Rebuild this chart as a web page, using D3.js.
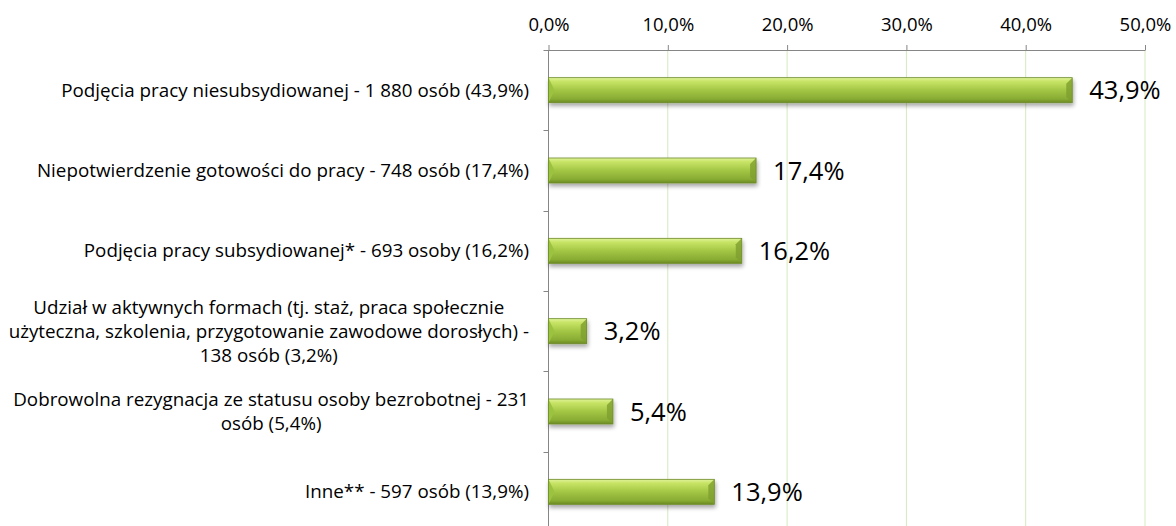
<!DOCTYPE html>
<html>
<head>
<meta charset="utf-8">
<script src="https://cdn.jsdelivr.net/npm/d3@7"></script>
<style>
  body { margin: 0; background: #fff; }
  svg text { font-family: "Open Sans", sans-serif; fill: #000; }
</style>
</head>
<body>
<div id="chart"></div>
<script>
// labels, each one already split into its lines
var categories = [
    ["Podjęcia pracy niesubsydiowanej - 1 880 osób (43,9%)"],
    ["Niepotwierdzenie gotowości do pracy - 748 osób (17,4%)"],
    ["Podjęcia pracy subsydiowanej* - 693 osoby (16,2%)"],
    ["Udział w aktywnych formach (tj. staż, praca społecznie",
     "użyteczna, szkolenia, przygotowanie zawodowe dorosłych) -",
     "138 osób (3,2%)"],
    ["Dobrowolna rezygnacja ze statusu osoby bezrobotnej - 231",
     "osób (5,4%)"],
    ["Inne** - 597 osób (13,9%)"]
];
var values = [43.9, 17.4, 16.2, 3.2, 5.4, 13.9];
var tickValues = [0, 10, 20, 30, 40, 50];

var width = 1176,
    height = 526;

var margin = {top: 50, left: 548.5, right: 31};
var plotBottom = 532;

var fmt = function(v) { return v.toFixed(1).replace(".", ",") + "%"; };

var svg = d3.select("#chart").append("svg")
    .attr("width", width)
    .attr("height", height);

var defs = svg.append("defs");

var grad = defs.append("linearGradient")
    .attr("id", "barGrad")
    .attr("x1", 0).attr("y1", 0).attr("x2", 0).attr("y2", 1);
grad.append("stop").attr("offset", "0%").attr("stop-color", "#dff39a");
grad.append("stop").attr("offset", "15%").attr("stop-color", "#c8e466");
grad.append("stop").attr("offset", "50%").attr("stop-color", "#a3c645");
grad.append("stop").attr("offset", "85%").attr("stop-color", "#88ab33");
grad.append("stop").attr("offset", "100%").attr("stop-color", "#6b8a24");

var shadow = defs.append("filter")
    .attr("id", "shadow")
    .attr("x", "-10%").attr("y", "-30%")
    .attr("width", "130%").attr("height", "190%");
shadow.append("feGaussianBlur").attr("in", "SourceAlpha").attr("stdDeviation", 2.2);
shadow.append("feOffset").attr("dx", 1).attr("dy", 3).attr("result", "blur");
shadow.append("feComponentTransfer")
    .append("feFuncA").attr("type", "linear").attr("slope", 0.35);
var merge = shadow.append("feMerge");
merge.append("feMergeNode");
merge.append("feMergeNode").attr("in", "SourceGraphic");

var x = d3.scaleLinear()
    .domain([0, 50])
    .range([margin.left, width - margin.right]);

var y = d3.scaleBand()
    .domain(d3.range(categories.length))
    .range([margin.top, plotBottom]);

// gridlines
svg.append("g")
    .selectAll("line")
    .data(tickValues.slice(1))
    .enter().append("line")
    .attr("x1", function(d) { return x(d); })
    .attr("x2", function(d) { return x(d); })
    .attr("y1", margin.top)
    .attr("y2", plotBottom)
    .attr("stroke", "#d5e9bd")
    .attr("stroke-width", 1);

// top axis
var xAxis = svg.append("g")
    .attr("transform", "translate(0," + margin.top + ")")
    .call(d3.axisTop(x)
        .tickValues(tickValues)
        .tickFormat(fmt)
        .tickSize(5)
        .tickSizeOuter(0)
        .tickPadding(14));
xAxis.select(".domain").attr("stroke", "#868686");
xAxis.selectAll(".tick line").attr("stroke", "#868686");
xAxis.selectAll("text").style("font-size", "18.5px");

// left axis (ticks between categories)
var yAxis = svg.append("g");
yAxis.append("line")
    .attr("x1", margin.left).attr("x2", margin.left)
    .attr("y1", margin.top).attr("y2", plotBottom)
    .attr("stroke", "#868686");
yAxis.selectAll("line.tk")
    .data(d3.range(categories.length + 1))
    .enter().append("line")
    .attr("class", "tk")
    .attr("x1", margin.left - 5).attr("x2", margin.left)
    .attr("y1", function(d) { return Math.round(margin.top + d * y.step()) + 0.5; })
    .attr("y2", function(d) { return Math.round(margin.top + d * y.step()) + 0.5; })
    .attr("stroke", "#868686");

// bars
var barH = 25;
var bars = svg.append("g")
    .selectAll("g.bar")
    .data(values)
    .enter().append("g")
    .attr("class", "bar")
    .attr("filter", "url(#shadow)");

bars.append("rect")
    .attr("x", x(0))
    .attr("y", function(d, i) { return y(i) + y.bandwidth() / 2 - barH / 2; })
    .attr("width", function(d) { return x(d) - x(0); })
    .attr("height", barH)
    .attr("fill", "url(#barGrad)");

// bevel on the ends
bars.append("path")
    .attr("d", function(d, i) {
        var y0 = y(i) + y.bandwidth() / 2 - barH / 2, x0 = x(0), b = 6;
        return "M" + x0 + "," + y0 + "L" + (x0 + b) + "," + (y0 + barH / 2) +
               "L" + x0 + "," + (y0 + barH) + "Z";
    })
    .attr("fill", "#9cc33f");
bars.append("path")
    .attr("d", function(d, i) {
        var y0 = y(i) + y.bandwidth() / 2 - barH / 2, x1 = x(d), b = 6;
        return "M" + x1 + "," + y0 + "L" + (x1 - b) + "," + (y0 + b) +
               "L" + (x1 - b) + "," + (y0 + barH - b) + "L" + x1 + "," + (y0 + barH) + "Z";
    })
    .attr("fill", "#7e9f2e")
    .attr("opacity", 0.8);
bars.append("rect")
    .attr("x", x(0))
    .attr("y", function(d, i) { return y(i) + y.bandwidth() / 2 - barH / 2; })
    .attr("width", function(d) { return x(d) - x(0); })
    .attr("height", barH)
    .attr("fill", "none")
    .attr("stroke", "#6f8c2a")
    .attr("stroke-width", 0.8);

// value labels
svg.append("g")
    .selectAll("text")
    .data(values)
    .enter().append("text")
    .attr("x", function(d) { return x(d) + 17; })
    .attr("y", function(d, i) { return y(i) + y.bandwidth() / 2; })
    .attr("dy", "0.36em")
    .style("font-size", "25.5px")
    .text(fmt);

// category labels: block right-aligned, lines centred inside block
var lineH = 24;
var labelRight = 529;
var labels = svg.append("g")
    .selectAll("g.lab")
    .data(categories)
    .enter().append("g")
    .attr("class", "lab");

labels.each(function(lines, i) {
    var g = d3.select(this);
    var cy = y(i) + y.bandwidth() / 2;
    var texts = g.selectAll("text")
        .data(lines)
        .enter().append("text")
        .attr("y", function(d, j) { return cy + (j - (lines.length - 1) / 2) * lineH; })
        .attr("dy", "0.35em")
        .style("font-size", "18.8px")
        .attr("text-anchor", "middle")
        .text(function(d) { return d; });
    var maxW = 0;
    texts.each(function() { maxW = Math.max(maxW, this.getComputedTextLength()); });
    texts.attr("x", labelRight - maxW / 2);
});
</script>
</body>
</html>
